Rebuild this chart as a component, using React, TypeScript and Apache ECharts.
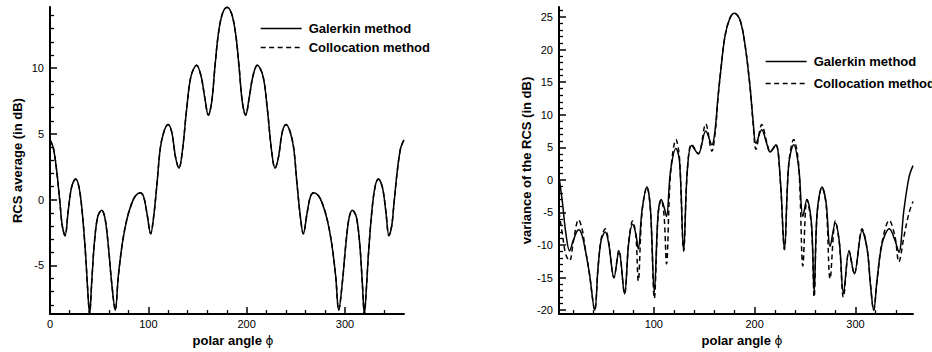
import React, { useEffect, useRef } from "react";
import * as echarts from "echarts";

const FONT = '"Liberation Sans", Arial, Helvetica, sans-serif';
const SERIES_NAMES = ["Galerkin method", "Collocation method"];

// RCS average (dB) against polar angle; both methods give the same curve
const avgAngle = [
  0, 3.4, 6.8, 10.2, 12.5, 15.3, 18.6, 22, 26.1, 29.5, 32.9, 36.3, 38.3, 40.3, 42.4, 45.1, 48.5,
  52.5, 55.9, 59.3, 62.7, 66.4, 69.5, 73.6, 78, 83, 87, 91.9, 95.3, 98.6, 102.4, 105.4, 108.8,
  112.2, 116, 120, 123.7, 127.8, 131.2, 134.6, 139, 143.4, 149.2, 153.6, 157.6, 161, 164.4, 167.8,
  171.2, 175.3, 180,
  184.7, 188.8, 192.2, 195.6, 199, 202.4, 206.4, 210.8, 216.6, 221, 225.4, 228.8, 232.2, 236.3,
  240, 244, 247.8, 251.2, 254.6, 257.6, 261.4, 264.7, 268.1, 273, 277, 282, 286.4, 290.5, 293.6,
  297.3, 300.7, 304.1, 307.5, 311.5, 314.9, 317.6, 319.7, 321.7, 323.7, 327.1, 330.5, 333.9, 338,
  341.4, 344.7, 347.5, 349.8, 353.2, 356.6, 360,
];
const avgGalerkin = [
  4.55, 3.93, 2.19, -0.3, -2.0, -2.74, -0.8, 0.95, 1.57, 0.95, -1.04, -4.3, -6.8, -8.7, -6.3, -3.3,
  -1.3, -0.8, -1.4, -3.5, -6.3, -8.4, -5.8, -3.3, -1.55, -0.3, 0.3, 0.52, 0.2, -1.04, -2.59, -1.3,
  1.2, 3.93, 5.2, 5.72, 5.17, 3.18, 2.39, 3.68, 6.9, 9.4, 10.22, 9.4, 7.66, 6.42, 7.41, 10.15,
  12.6, 14.13, 14.63,
  14.13, 12.6, 10.15, 7.41, 6.42, 7.66, 9.4, 10.22, 9.4, 6.9, 3.68, 2.39, 3.18, 5.17, 5.72, 5.2,
  3.93, 1.2, -1.3, -2.59, -1.04, 0.2, 0.52, 0.3, -0.3, -1.55, -3.3, -5.8, -8.4, -6.3, -3.5, -1.4,
  -0.8, -1.3, -3.3, -6.3, -8.7, -6.8, -4.3, -1.04, 0.95, 1.57, 0.95, -0.8, -2.74, -2.0, -0.3, 2.19,
  3.93, 4.55,
];
const avgCollocation = avgGalerkin.slice();

// variance of the RCS (dB) against polar angle
const varAngle = [
  6.1, 9.5, 12.8, 16.5, 20.4, 25.4, 28.7, 32, 36, 41.5, 44.6, 47.9, 51.9, 55.2, 60.5, 65.4, 71.0,
  75.1, 79.0, 82.2, 84.6, 88.4, 93.2, 96.7, 100.5, 104.3, 107.4, 110.2, 112.6, 116.6, 122.0, 125.5,
  129.6, 133.2, 137.5, 144.1, 151.5, 157.6, 161, 163.5, 166.2, 170.5, 175.5, 180, 185.4, 190.2,
  195.3, 198.5, 201.3, 207.0, 212.3, 215.3, 221.0, 225.5, 229.5, 233.8, 238.7, 243.7, 247.8, 251.8,
  256.3, 259.0, 261.9, 266.8, 270.9, 274.8, 280.0, 284.1, 288.0, 293.6, 298.8, 306.5, 311.6, 314.9,
  318.0, 321.5, 326.5, 333.5, 339, 343, 348, 353, 357,
];
const varGalerkin = [
  0.4, -3.6, -8.2, -10.9, -9.2, -7.66, -8.4, -10.7, -14.2, -20.0, -13.7, -9.2, -8.0, -9.7, -15.0,
  -10.9, -17.5, -9.7, -6.8, -8.3, -10.6, -4.6, -1.1, -4.6, -17.2, -5.1, -3.0, -4.2, -5.6, 1.4, 4.84,
  2.9, -10.9, 1.4, 5.3, 4.0, 7.5, 5.4, 8.0, 12.5, 16.5, 22.0, 24.85, 25.6, 24.6, 21.0, 14.5, 9.0,
  5.6, 7.7, 5.4, 4.3, 5.4, -0.1, -10.7, 2.4, 5.4, 1.9, -5.6, -3.0, -6.6, -17.2, -5.1, -1.1, -3.6,
  -10.2, -6.6, -9.7, -17.4, -10.9, -14.4, -7.8, -10.7, -16.2, -20.0, -15.2, -9.7, -7.5, -9.2, -11.1,
  -4.6, 0.4, 2.2,
];
const varCollocation = [
  -5.0, -8.5, -11.5, -12.4, -9.3, -6.1, -7.4, -10.5, -14.2, -20.0, -13.7, -9.0, -7.5, -9.5, -15.0,
  -10.8, -17.5, -9.5, -6.3, -8.5, -15.5, -4.8, -1.1, -4.6, -18.2, -5.3, -3.0, -5.5, -12.9, 1.0, 6.2,
  3.3, -10.9, 1.4, 5.5, 4.0, 8.6, 4.4, 7.5, 12.3, 16.5, 22.0, 24.85, 25.6, 24.6, 21.0, 14.5, 8.6,
  4.7, 8.5, 5.6, 4.3, 5.4, -0.3, -10.7, 2.4, 6.2, 2.2, -13.2, -3.0, -7.0, -18.0, -5.3, -1.1, -3.8,
  -15.2, -6.3, -9.9, -18.0, -10.9, -14.4, -7.5, -10.7, -16.2, -20.0, -15.2, -9.4, -6.2, -8.6, -12.6,
  -8.7, -5.1, -3.3,
];

// axis tick labels
const angleTicksLeft = [0, 100, 200, 300];
const angleTicksRight = [100, 200, 300];
const avgTicks = [-5, 0, 5, 10];
const varTicks = [-20, -15, -10, -5, 0, 5, 10, 15, 20, 25];

const pairs = (xs: number[], ys: number[]) => xs.map((x, i) => [x, ys[i]]);

const axisTitleStyle = {
  color: "#000",
  fontFamily: FONT,
  fontSize: 13,
  fontWeight: "bold" as const,
};

function xAxisOf(gridIndex: number, min: number, max: number, ticks: number[]) {
  return {
    gridIndex,
    type: "value" as const,
    min,
    max,
    splitNumber: 5,
    axisLine: { show: true, onZero: false, lineStyle: { color: "#000", width: 2 } },
    axisTick: {
      show: true,
      inside: true,
      length: 7,
      customValues: ticks,
      lineStyle: { color: "#000", width: 1.5 },
    },
    minorTick: { show: true, splitNumber: 5, length: 4, lineStyle: { color: "#000", width: 1.3 } },
    axisLabel: { customValues: ticks, margin: 4, fontSize: 11, color: "#000", fontFamily: FONT },
    splitLine: { show: false },
    name: "{b|polar angle }{p|ϕ}",
    nameLocation: "middle" as const,
    nameGap: 15,
    nameTextStyle: {
      ...axisTitleStyle,
      padding: [0, 0, 0, 12],
      rich: {
        b: { ...axisTitleStyle },
        p: { ...axisTitleStyle, fontWeight: "normal" as const, fontFamily: "DejaVu Sans, " + FONT, fontSize: 12 },
      },
    },
  };
}

function yAxisOf(gridIndex: number, min: number, max: number, splitNumber: number, ticks: number[], name: string) {
  return {
    gridIndex,
    type: "value" as const,
    min,
    max,
    splitNumber,
    axisLine: { show: true, onZero: false, lineStyle: { color: "#000", width: 2 } },
    axisTick: {
      show: true,
      inside: true,
      length: 7,
      customValues: ticks,
      lineStyle: { color: "#000", width: 1.5 },
    },
    minorTick: { show: true, splitNumber: 5, length: 4, lineStyle: { color: "#000", width: 1.3 } },
    axisLabel: { customValues: ticks, margin: 6, fontSize: 11, color: "#000", fontFamily: FONT },
    splitLine: { show: false },
    name,
    nameLocation: "middle" as const,
    nameGap: 26,
    nameTextStyle: axisTitleStyle,
  };
}

function lineSeries(name: string, axisIndex: number, data: number[][], dashed: boolean) {
  return {
    name,
    type: "line" as const,
    xAxisIndex: axisIndex,
    yAxisIndex: axisIndex,
    data,
    symbol: "none",
    showSymbol: false,
    smooth: 0.35,
    clip: true,
    lineStyle: { color: "#000", width: 1.5, type: dashed ? [5, 3.5] : "solid" },
    itemStyle: { color: "#000" },
    z: dashed ? 3 : 2,
  };
}

function legendAt(left: number, top: number, itemGap: number) {
  return {
    left,
    top,
    padding: 0,
    orient: "vertical" as const,
    itemWidth: 41,
    itemHeight: 14,
    itemGap,
    selectedMode: false,
    data: SERIES_NAMES,
    itemStyle: { opacity: 0 },
    lineStyle: { width: 1.3 },
    textStyle: {
      color: "#000",
      fontFamily: FONT,
      fontSize: 13,
      fontWeight: "bold" as const,
      padding: [0, 0, 0, 2],
    },
  };
}

export default function App() {
  const ref = useRef<HTMLDivElement>(null);

  useEffect(() => {
    if (!ref.current) return;
    const chart = echarts.init(ref.current, undefined, { renderer: "svg" });
    chart.setOption({
      animation: false,
      backgroundColor: "#fff",
      textStyle: { fontFamily: FONT },
      grid: [
        { left: 50, top: 7, width: 354, height: 312 },
        { left: 559, top: 7, width: 354, height: 312 },
      ],
      xAxis: [xAxisOf(0, 0, 360, angleTicksLeft), xAxisOf(1, 6, 357, angleTicksRight)],
      yAxis: [
        yAxisOf(0, -8.7, 14.65, 5, avgTicks, "RCS average (in dB)"),
        yAxisOf(1, -20.6, 26.55, 9, varTicks, "variance of the RCS (in dB)"),
      ],
      legend: [legendAt(260, 22, 6), legendAt(765, 55, 9)],
      series: [
        lineSeries(SERIES_NAMES[0], 0, pairs(avgAngle, avgGalerkin), false),
        lineSeries(SERIES_NAMES[1], 0, pairs(avgAngle, avgCollocation), true),
        lineSeries(SERIES_NAMES[0], 1, pairs(varAngle, varGalerkin), false),
        lineSeries(SERIES_NAMES[1], 1, pairs(varAngle, varCollocation), true),
      ],
    });
    return () => chart.dispose();
  }, []);

  return (
    <div
      ref={ref}
      style={{ position: "fixed", left: 0, top: 0, width: 932, height: 352, background: "#fff" }}
    />
  );
}
